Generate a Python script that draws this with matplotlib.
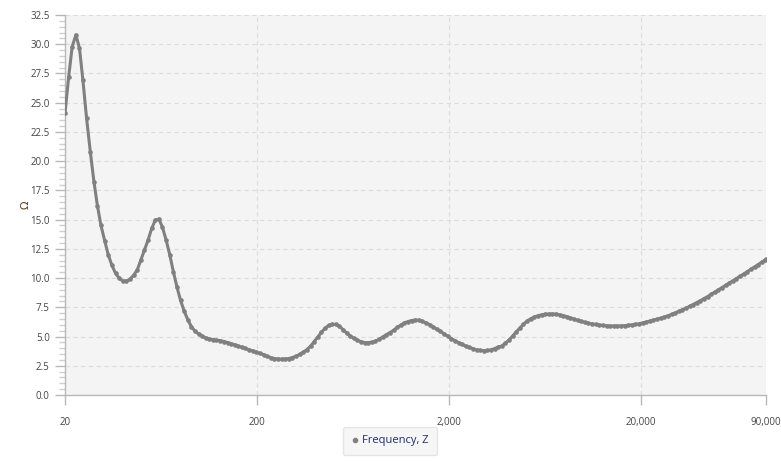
import matplotlib
matplotlib.use("Agg")
import matplotlib.pyplot as plt
from matplotlib.ticker import FixedLocator, MultipleLocator, NullLocator, FixedFormatter
from matplotlib.lines import Line2D

freq = [20, 20.9, 21.8, 22.8, 23.8, 24.8, 25.9, 27.1, 28.3, 29.5, 30.8, 32.2, 33.6, 35.1, 36.7, 38.3,
        40, 41.8, 43.6, 45.6, 47.6, 49.7, 51.9, 54.2, 56.6, 59.1, 61.7, 64.4, 67.3, 70.3, 73.4, 76.6,
        80, 83.5, 87.2, 91.1, 95.1, 99.4, 104, 108, 113, 118, 123, 129, 135, 141, 147, 153,
        160, 167, 174, 182, 190, 199, 207, 217, 226, 236, 247, 258, 269, 281, 293, 306,
        320, 334, 349, 364, 381, 397, 415, 433, 453, 473, 493, 515, 538, 562, 587, 613,
        640, 668, 698, 729, 761, 795, 830, 867, 905, 945, 987, 1031, 1076, 1124, 1174, 1226,
        1280, 1337, 1396, 1458, 1522, 1590, 1660, 1734, 1810, 1890, 1974, 2061, 2153, 2248, 2348, 2451,
        2560, 2673, 2792, 2915, 3044, 3179, 3320, 3467, 3620, 3781, 3948, 4123, 4305, 4496, 4695, 4903,
        5120, 5347, 5583, 5831, 6089, 6358, 6640, 6934, 7241, 7561, 7896, 8246, 8611, 8992, 9390, 9806,
        10240, 10693, 11167, 11661, 12177, 12717, 13279, 13867, 14482, 15123, 15792, 16491, 17221, 17983, 18779, 19611,
        20480, 21386, 22333, 23322, 24355, 25433, 26559, 27735, 28963, 30245, 31584, 32983, 34443, 35967, 37559, 39222,
        40960, 42773, 44667, 46644, 48709, 50866, 53118, 55470, 57926, 60490, 63168, 65965, 68886, 71935, 75120, 78446,
        81920, 85547, 89334, 90000]

impedance = [24.1, 27.2, 29.8, 30.8, 29.65, 26.9, 23.7, 20.8, 18.25, 16.2, 14.5, 13.2, 12.0, 11.1, 10.4, 10.0,
             9.75, 9.75, 9.9, 10.25, 10.7, 11.55, 12.4, 13.25, 14.25, 14.95, 15.05, 14.35, 13.25, 12.0, 10.55, 9.25,
             8.1, 7.2, 6.45, 5.85, 5.47, 5.22, 5.03, 4.88, 4.8, 4.74, 4.7, 4.65, 4.57, 4.48, 4.39, 4.29,
             4.18, 4.08, 3.98, 3.88, 3.77, 3.67, 3.56, 3.45, 3.32, 3.2, 3.12, 3.08, 3.07, 3.08, 3.12, 3.2,
             3.32, 3.47, 3.65, 3.88, 4.18, 4.55, 4.95, 5.35, 5.7, 5.95, 6.05, 6.03, 5.88, 5.6, 5.3, 5.04,
             4.85, 4.68, 4.56, 4.49, 4.48, 4.52, 4.6, 4.76, 4.96, 5.15, 5.33, 5.53, 5.78, 5.98, 6.17, 6.28,
             6.37, 6.41, 6.4, 6.3, 6.17, 6.02, 5.82, 5.62, 5.44, 5.24, 5.03, 4.83, 4.65, 4.48, 4.33, 4.18,
             4.07, 3.96, 3.86, 3.81, 3.79, 3.81, 3.86, 3.97, 4.1, 4.19, 4.45, 4.7, 5.05, 5.4, 5.73, 6.05,
             6.33, 6.52, 6.67, 6.78, 6.86, 6.91, 6.93, 6.93, 6.92, 6.86, 6.79, 6.7, 6.6, 6.48, 6.38, 6.3,
             6.21, 6.13, 6.08, 6.03, 5.99, 5.95, 5.92, 5.9, 5.9, 5.9, 5.91, 5.93, 5.96, 6.0, 6.04, 6.09,
             6.16, 6.24, 6.32, 6.4, 6.48, 6.57, 6.67, 6.78, 6.89, 7.02, 7.15, 7.29, 7.43, 7.58, 7.74, 7.9,
             8.07, 8.24, 8.42, 8.61, 8.8, 8.99, 9.19, 9.39, 9.58, 9.77, 9.96, 10.15, 10.35, 10.55, 10.75, 10.95,
             11.15, 11.36, 11.57, 11.6]

x_ticks = [20, 200, 2000, 20000, 90000]
x_tick_labels = ["20", "200", "2,000", "20,000", "90,000"]
series_name = "Frequency, Z"
y_label = "Ω"

plt.rcParams['font.family'] = ['Open Sans', 'DejaVu Sans']

fig = plt.figure(figsize=(7.81, 4.62), dpi=100)
ax = fig.add_axes([65 / 781, 67 / 462, 701 / 781, 380 / 462])
ax.set_facecolor('#f4f4f4')

line_color = '#808080'
ax.plot(freq, impedance, color=line_color, linewidth=2.2, marker='o', markersize=2.3,
        markerfacecolor=line_color, markeredgecolor=line_color, zorder=3)

ax.set_xscale('log')
ax.set_xlim(20, 90000)
ax.set_ylim(0, 32.5)
ax.xaxis.set_major_locator(FixedLocator(x_ticks))
ax.xaxis.set_major_formatter(FixedFormatter(x_tick_labels))
ax.xaxis.set_minor_locator(NullLocator())
ax.yaxis.set_major_locator(MultipleLocator(2.5))
ax.yaxis.set_minor_locator(MultipleLocator(0.5))
ax.yaxis.set_major_formatter(matplotlib.ticker.FormatStrFormatter('%.1f'))

ax.grid(True, which='major', color='#dcdcdc', linestyle=(0, (4, 3)), linewidth=0.8, zorder=0)

for side in ['top', 'right']:
    ax.spines[side].set_visible(False)
for side in ['left', 'bottom']:
    ax.spines[side].set_color('#b8b8b8')
    ax.spines[side].set_linewidth(1.0)

ax.tick_params(axis='both', which='major', length=7, width=1, color='#b8b8b8',
               labelsize=7, labelcolor='#444444', pad=4)
ax.tick_params(axis='y', which='minor', length=4, width=1, color='#cfcfcf')
ax.tick_params(axis='x', which='major', pad=9)

ax.set_ylabel(y_label, fontsize=8, color='#5a3a1a', family=['DejaVu Sans'])
ax.yaxis.set_label_coords(-34 / 701, 0.5)

handle = Line2D([], [], color=line_color, marker='o', linestyle='None', markersize=3)
leg = fig.legend([handle], [series_name], loc='center', bbox_to_anchor=(390 / 781, 1 - 441 / 462),
                 frameon=True, fontsize=8, handlelength=0.6, handletextpad=0.4,
                 borderpad=0.75, fancybox=True)
leg.get_frame().set_facecolor('#f4f4f4')
leg.get_frame().set_edgecolor('#e0e0e0')
for t in leg.get_texts():
    t.set_color('#1a2c6c')

fig.savefig('out.png', dpi=100)
